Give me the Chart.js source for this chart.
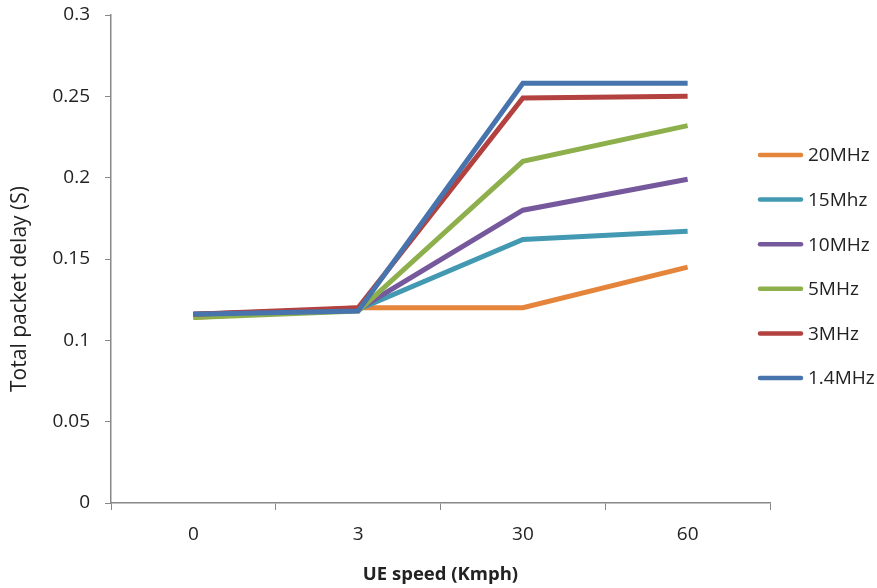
<!DOCTYPE html>
<html>
<head>
<meta charset="utf-8">
<script src="https://cdn.jsdelivr.net/npm/chart.js@4"></script>
<style>
html,body{margin:0;padding:0;background:#fff;}
#wrap{width:877px;height:588px;position:relative;}
</style>
</head>
<body>
<div id="wrap"><canvas id="c" width="877" height="588"></canvas></div>
<script>
const categories = ["0", "3", "30", "60"];
const seriesNames = ["20MHz", "15Mhz", "10MHz", "5MHz", "3MHz", "1.4MHz"];
const s20MHz = [0.114, 0.120, 0.120, 0.145];
const s15MHz = [0.116, 0.119, 0.162, 0.167];
const s10MHz = [0.116, 0.119, 0.180, 0.199];
const s5MHz  = [0.114, 0.118, 0.210, 0.232];
const s3MHz  = [0.116, 0.120, 0.249, 0.250];
const s1_4MHz = [0.116, 0.118, 0.258, 0.258];
const colors = ["#E5843B", "#4399B2", "#76599C", "#8DB04C", "#B2413F", "#4874AD"];
const yTicks = [0, 0.05, 0.1, 0.15, 0.2, 0.25, 0.3];
const xTitle = 'UE speed (Kmph)';
const yTitle = 'Total packet delay (S)';

const seriesValues = [s20MHz, s15MHz, s10MHz, s5MHz, s3MHz, s1_4MHz];
const FONT = "'Open Sans', sans-serif";

// Legend drawn on the right, in the style of the reference
const sideLegend = {
  id: 'sideLegend',
  afterDraw(chart) {
    const ctx = chart.ctx;
    const x0 = 758, lineLen = 45, textGap = 5, y0 = 155, step = 44.6;
    ctx.save();
    ctx.font = "19px " + FONT;
    ctx.textBaseline = 'middle';
    ctx.textAlign = 'left';
    chart.data.datasets.forEach((d, i) => {
      const y = y0 + i * step;
      ctx.strokeStyle = d.borderColor;
      ctx.lineWidth = 4.5;
      ctx.lineCap = 'round';
      ctx.beginPath();
      ctx.moveTo(x0 + 2, y);
      ctx.lineTo(x0 + lineLen - 2, y);
      ctx.stroke();
      ctx.fillStyle = '#222';
      ctx.fillText(d.label, x0 + lineLen + textGap, y + 1);
    });
    // y-axis title, placed as in the reference
    ctx.translate(20, 289);
    ctx.rotate(-Math.PI / 2);
    ctx.font = "21px " + FONT;
    ctx.textAlign = 'center';
    ctx.fillText(yTitle, 0, 0);
    ctx.restore();
  }
};

const chart = new Chart(document.getElementById('c'), {
  type: 'line',
  data: {
    labels: categories,
    datasets: seriesNames.map((n, i) => ({
      label: n,
      data: seriesValues[i],
      borderColor: colors[i],
      backgroundColor: colors[i],
      borderWidth: 5,
      pointRadius: 0,
      tension: 0,
      fill: false,
      order: seriesNames.length - i
    }))
  },
  plugins: [sideLegend],
  options: {
    responsive: false,
    animation: false,
    layout: { padding: { top: 15, right: 107, left: 0, bottom: 0 } },
    plugins: {
      tooltip: { enabled: false },
      legend: { display: false }
    },
    scales: {
      x: {
        type: 'category',
        offset: true,
        afterFit(scale) { scale.height = 85; scale.paddingLeft = 0; scale.paddingRight = 0; },
        grid: { display: true, offset: true, drawOnChartArea: false, drawTicks: true, tickLength: 7, color: '#888' },
        border: { color: '#888', width: 1.5 },
        ticks: { font: { family: FONT, size: 19 }, color: '#222', padding: 13 },
        title: { display: true, text: xTitle, font: { family: FONT, size: 18.5, weight: 'bold' }, color: '#222', padding: { top: 0, bottom: 2 } }
      },
      y: {
        min: 0, max: 0.3,
        afterFit(scale) { scale.width = 111; scale.paddingTop = 0; scale.paddingBottom = 0; },
        afterBuildTicks(scale) { scale.ticks = yTicks.map(v => ({ value: v })); },
        grid: { display: true, drawOnChartArea: false, drawTicks: true, tickLength: 6, color: '#888' },
        border: { color: '#888', width: 1.5 },
        ticks: { font: { family: FONT, size: 19 }, color: '#222', padding: 15, callback: v => String(+v.toFixed(2)) },
        title: { display: false }
      }
    }
  }
});
</script>
</body>
</html>
